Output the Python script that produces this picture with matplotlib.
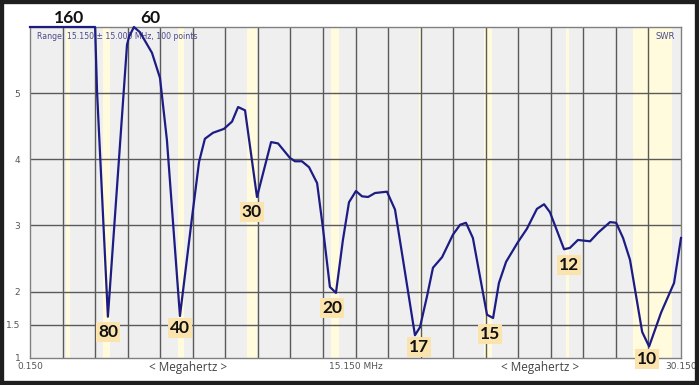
import matplotlib
matplotlib.use("Agg")
import matplotlib.pyplot as plt
from matplotlib.patches import Rectangle

# SWR sweep, 0.150 .. 30.150 MHz (values above 6 shown clipped at the top)
freq_mhz = [0.15, 3.15, 3.24, 3.74, 4.62, 4.71, 4.94, 5.22, 5.77, 6.14, 6.46,
            7.06, 7.62, 7.94, 8.21, 8.58, 9.09, 9.46, 9.74, 10.06, 10.61,
            11.26, 11.58, 12.13, 12.36, 12.68, 13.01, 13.38, 13.65, 13.97,
            14.25, 14.57, 14.85, 15.17, 15.45, 15.73, 16.05, 16.60, 16.97,
            17.34, 17.89, 18.12, 18.44, 18.72, 19.14, 19.64, 19.97, 20.24,
            20.56, 21.21, 21.49, 21.76, 22.09, 22.64, 23.05, 23.51, 23.84,
            24.11, 24.76, 25.03, 25.40, 25.96, 26.33, 26.88, 27.16, 27.48,
            27.80, 28.36, 28.68, 29.23, 29.83, 30.15]
swr = [6.0, 6.0, 5.02, 1.62, 5.73, 5.85, 6.0, 5.92, 5.61, 5.23, 4.29,
       1.63, 3.13, 3.96, 4.31, 4.40, 4.46, 4.57, 4.79, 4.74, 3.43,
       4.26, 4.24, 4.02, 3.97, 3.97, 3.88, 3.64, 2.96, 2.07,
       1.98, 2.78, 3.35, 3.52, 3.44, 3.43, 3.49, 3.51, 3.24,
       2.48, 1.34, 1.46, 1.92, 2.36, 2.52, 2.86, 3.01, 3.04,
       2.81, 1.65, 1.60, 2.13, 2.45, 2.75, 2.95, 3.25, 3.32,
       3.20, 2.64, 2.66, 2.78, 2.76, 2.89, 3.05, 3.04, 2.81,
       2.48, 1.39, 1.17, 1.68, 2.13, 2.81]

# ham bands shaded in the plot (MHz)
bands = [(1.8, 2.0), (3.5, 3.85), (6.95, 7.25), (10.15, 10.6), (14.0, 14.38),
         (18.07, 18.17), (21.05, 21.45), (24.85, 25.0), (27.95, 29.72)]

band_names = ["160", "60", "80", "40", "30", "20", "17", "15", "12", "10"]
name_xy = [(1.95, 6.14), (5.68, 6.14), (3.74, 1.39), (7.06, 1.45),
           (10.38, 3.20), (14.07, 1.75), (18.08, 1.16), (21.35, 1.36),
           (24.99, 2.40), (28.58, 0.98)]

yticks = [1, 1.5, 2, 3, 4, 5]

fig = plt.figure(figsize=(6.99, 3.85), dpi=100)
fig.patch.set_facecolor("white")
ax = fig.add_axes([30 / 699, 27.3 / 385, 651 / 699, 330.7 / 385])
ax.set_facecolor("#efefef")

for lo, hi in bands:
    ax.axvspan(lo, hi, color="#fffbdc", lw=0, zorder=0.5)

for k in range(1, 20):
    ax.axvline(0.15 + 1.5 * k, color="#5a5a5a", lw=1.0, zorder=1)
for y in yticks[1:]:
    ax.axhline(y, color="#5a5a5a", lw=1.0, zorder=1)

ax.plot(freq_mhz, swr, color="#1c1c84", lw=1.6, zorder=3, clip_on=False)

ax.set_xlim(0.15, 30.15)
ax.set_ylim(1, 6)
for s in ax.spines.values():
    s.set_color("#808080")
    s.set_linewidth(1.0)

ax.set_yticks(yticks)
ax.set_yticklabels(["1", "1.5", "2", "3", "4", "5"])
ax.set_xticks([0.15, 15.15, 30.15])
ax.set_xticklabels(["0.150", "15.150 MHz", "30.150"])
ax.tick_params(length=0, labelsize=6.5, labelcolor="#555555")
ax.tick_params(axis="y", pad=7)
ax.tick_params(axis="x", pad=3)

ax.text(0.01, 0.985, "Range: 15.150 \u00b1 15.000 MHz, 100 points",
        transform=ax.transAxes, fontsize=5.6, color="#4a4a8a", va="top", ha="left", zorder=2)
ax.text(0.99, 0.985, "SWR", transform=ax.transAxes, fontsize=6,
        color="#4a4a8a", va="top", ha="right", zorder=2)

for name, (x, y) in zip(band_names, name_xy):
    top = y > 6
    ax.text(x, y, name, ha="center", va="center", fontsize=12.5,
            fontweight="bold", family="Lato", color="#111111", zorder=5,
            clip_on=False,
            bbox=None if top else dict(boxstyle="square,pad=0.12", fc="#fbe3ad", ec="none"))

for xc in (188, 540):
    fig.text(xc / 699, 1 - 367 / 385, "< Megahertz >", ha="center", va="center",
             fontsize=8.5, family="Open Sans", color="#444444")

fig.patches.append(Rectangle((0, 0), 1, 1, transform=fig.transFigure, fill=False,
                             edgecolor="#1e1e1e", linewidth=6, zorder=10))

fig.savefig("out.png", dpi=100)
